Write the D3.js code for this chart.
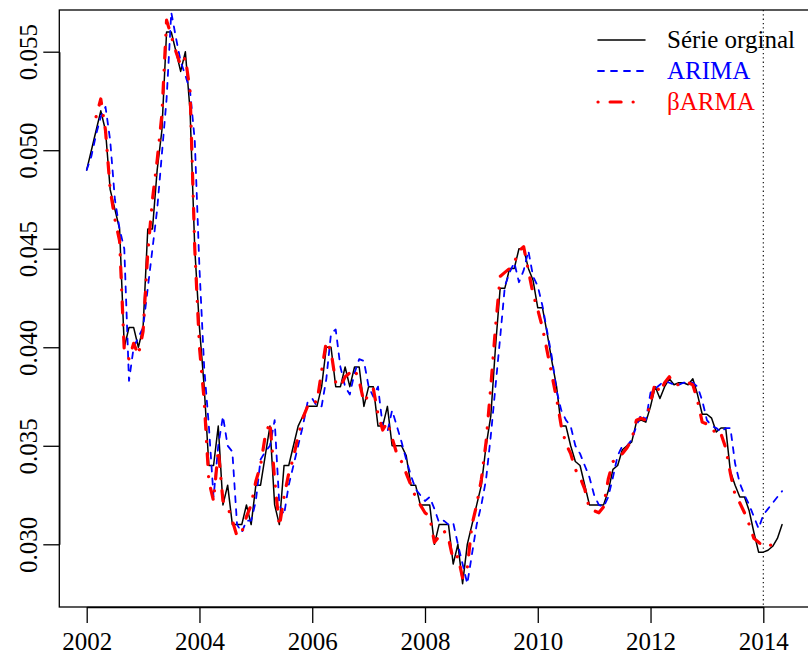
<!DOCTYPE html>
<html>
<head>
<meta charset="utf-8">
<script src="https://cdn.jsdelivr.net/npm/d3@7"></script>
<style>
  html, body { margin: 0; padding: 0; background: #fff; }
  svg { display: block; }
  text { font-family: "Liberation Serif", "Times New Roman", serif; }
</style>
</head>
<body>
<svg id="chart" width="808" height="658"></svg>
<script>
// Monthly series, starting January 2002
const startYear = 2002;

// Observed series (Jan 2002 .. May 2014)
const serieOriginal = [
  0.049, 0.050, 0.051, 0.052, 0.051, 0.048, 0.047, 0.046, 0.040, 0.041, 0.041, 0.040,
  0.041, 0.046, 0.046, 0.049, 0.051, 0.056, 0.056, 0.055, 0.054, 0.055, 0.052, 0.045,
  0.041, 0.038, 0.034, 0.034, 0.036, 0.032, 0.033, 0.031, 0.031, 0.031, 0.032, 0.031,
  0.033, 0.033, 0.0345, 0.036, 0.032, 0.031, 0.034, 0.034, 0.035, 0.036, 0.0365, 0.037,
  0.037, 0.037, 0.038, 0.040, 0.040, 0.038, 0.038, 0.039, 0.038, 0.039, 0.039, 0.037,
  0.038, 0.038, 0.036, 0.036, 0.037, 0.035, 0.035, 0.035, 0.0345, 0.033, 0.033, 0.032,
  0.032, 0.032, 0.030, 0.031, 0.031, 0.031, 0.029, 0.030, 0.028, 0.030, 0.031, 0.032,
  0.033, 0.035, 0.0365, 0.040, 0.043, 0.043, 0.044, 0.044, 0.045, 0.045, 0.044, 0.0434,
  0.042, 0.042, 0.0407, 0.0393, 0.038, 0.036, 0.036, 0.035, 0.0342, 0.034, 0.033, 0.032,
  0.032, 0.032, 0.032, 0.0327, 0.0338, 0.034, 0.0348, 0.035, 0.0352, 0.0362, 0.0363, 0.0362,
  0.037, 0.038, 0.0374, 0.038, 0.0384, 0.0381, 0.0382, 0.0382, 0.0381, 0.0384, 0.0376, 0.0366,
  0.0366, 0.0364, 0.0357, 0.0359, 0.0359, 0.0337, 0.033, 0.0324, 0.0324, 0.0317, 0.0306, 0.0296,
  0.0296, 0.0297, 0.0299, 0.0303, 0.031
];

// ARIMA fitted values and forecasts (Jan 2002 .. May 2014)
const arima = [
  0.049, 0.0497, 0.0508, 0.0517, 0.0522, 0.0505, 0.0475, 0.046, 0.045, 0.0383, 0.040, 0.0405,
  0.041, 0.043, 0.045, 0.047, 0.0498, 0.0526, 0.057, 0.0557, 0.0545, 0.0538, 0.053, 0.0505,
  0.044, 0.039, 0.036, 0.0324, 0.035, 0.0365, 0.035, 0.0347, 0.031, 0.0306, 0.0312, 0.0312,
  0.0322, 0.0343, 0.0347, 0.035, 0.0363, 0.032, 0.0315, 0.033, 0.034, 0.035, 0.036, 0.0372,
  0.0374, 0.037, 0.037, 0.0384, 0.0407, 0.0409, 0.039, 0.038, 0.0376, 0.0387, 0.0394, 0.0393,
  0.038, 0.0375, 0.038, 0.036, 0.0357, 0.0368, 0.036, 0.0352, 0.0343, 0.0335, 0.0328, 0.0325,
  0.0322, 0.0324, 0.0318, 0.0311, 0.0312, 0.031, 0.0311, 0.030, 0.029, 0.028, 0.0295, 0.031,
  0.032, 0.0333, 0.0355, 0.038, 0.0405, 0.0431, 0.0438, 0.0443, 0.0433, 0.0439, 0.0449, 0.0436,
  0.0431, 0.0421, 0.0408, 0.0395, 0.0378, 0.0368, 0.0363, 0.036, 0.035, 0.0346, 0.034, 0.0334,
  0.0325, 0.032, 0.0319, 0.0324, 0.0334, 0.0345, 0.035, 0.035, 0.0353, 0.036, 0.0366, 0.0363,
  0.0377, 0.0379, 0.0381, 0.0383, 0.0382, 0.0381, 0.0381, 0.0382, 0.0382, 0.0382, 0.038, 0.0373,
  0.0363, 0.036, 0.0359, 0.0357, 0.0359, 0.0359, 0.0341, 0.0331, 0.0325, 0.032, 0.0314, 0.0308,
  0.0315, 0.0318, 0.0321, 0.0324, 0.0327
];

// Beta ARMA fitted values and forecasts (Mar 2002 .. Apr 2014)
const barmaStartMonth = 2;
const barma = [
  0.0517, 0.0526, 0.051, 0.048, 0.0465, 0.0454, 0.0398, 0.0394, 0.0402, 0.0396,
  0.0408, 0.0448, 0.0475, 0.0495, 0.0518, 0.0566, 0.0558, 0.055, 0.0543, 0.0547, 0.053, 0.045,
  0.040, 0.0373, 0.0332, 0.0322, 0.0348, 0.0322, 0.0319, 0.0312, 0.0304, 0.0306, 0.0314, 0.032,
  0.0332, 0.034, 0.0355, 0.0362, 0.0333, 0.0309, 0.0324, 0.0336, 0.0344, 0.0355, 0.0364, 0.037,
  0.0373, 0.0372, 0.0388, 0.0403, 0.0398, 0.0382, 0.038, 0.0385, 0.0387, 0.0389, 0.0383, 0.0372,
  0.0376, 0.0379, 0.0366, 0.0358, 0.0362, 0.0354, 0.0346, 0.0342, 0.0336, 0.033, 0.0324, 0.032,
  0.0316, 0.0314, 0.0301, 0.0304, 0.0307, 0.0303, 0.0292, 0.0294, 0.0283, 0.0288, 0.031, 0.032,
  0.0333, 0.0352, 0.038, 0.041, 0.0436, 0.0438, 0.044, 0.0443, 0.0449, 0.0451, 0.0439, 0.0427,
  0.0419, 0.041, 0.0398, 0.0386, 0.0374, 0.036, 0.0351, 0.0346, 0.0338, 0.0334, 0.0328, 0.0318,
  0.0317, 0.0316, 0.0319, 0.0333, 0.0342, 0.0343, 0.0346, 0.0349, 0.0353, 0.0363, 0.0364, 0.0363,
  0.0372, 0.0382, 0.0377, 0.0382, 0.0385, 0.0381, 0.0381, 0.0381, 0.0382, 0.0381, 0.0373, 0.0362,
  0.0361, 0.036, 0.0355, 0.0356, 0.0349, 0.0336, 0.0325, 0.0321, 0.0316, 0.031, 0.0303, 0.0301,
  0.0299, 0.0299, 0.030, 0.0301
];

// Axis ticks and the forecast origin
const xTicks = [2002, 2004, 2006, 2008, 2010, 2012, 2014];
const yTicks = [0.030, 0.035, 0.040, 0.045, 0.050, 0.055];
const forecastStart = 2014;

const legendLabels = ["Série orginal", "ARIMA", "βARMA"];

const svg = d3.select("#chart");

// Plot region (right edge runs past the window)
const plot = { left: 59.3, top: 10, right: 812, bottom: 607 };

const x = d3.scaleLinear().domain([2002, 2014]).range([86.7, 763.3]);
const y = d3.scaleLinear().domain([0.030, 0.055]).range([544.3, 51.7]);

svg.append("defs").append("clipPath").attr("id", "plot-clip")
  .append("rect")
  .attr("x", plot.left).attr("y", plot.top)
  .attr("width", plot.right - plot.left).attr("height", plot.bottom - plot.top);

const toPoints = (vals, offset) => vals.map((v, i) => ({ t: startYear + (i + offset) / 12, v }));

const line = d3.line().x(d => x(d.t)).y(d => y(d.v));

const series = [
  { name: legendLabels[0], data: toPoints(serieOriginal, 0), color: "#000000", width: 1.5, dash: null, cap: "round" },
  { name: legendLabels[1], data: toPoints(arima, 0), color: "#0000FF", width: 1.8, dash: "6,7", cap: "round" },
  { name: legendLabels[2], data: toPoints(barma, barmaStartMonth), color: "#FF0000", width: 3.2, dash: "0.1,12,11,12", cap: "round" }
];

const g = svg.append("g").attr("clip-path", "url(#plot-clip)");

series.forEach(s => {
  g.append("path")
    .datum(s.data)
    .attr("d", line)
    .attr("fill", "none")
    .attr("stroke", s.color)
    .attr("stroke-width", s.width)
    .attr("stroke-linecap", s.cap)
    .attr("stroke-linejoin", "round")
    .attr("stroke-dasharray", s.dash);
});

// Forecast origin marker
g.append("line")
  .attr("x1", x(forecastStart)).attr("x2", x(forecastStart))
  .attr("y1", plot.top).attr("y2", plot.bottom)
  .attr("stroke", "#000").attr("stroke-width", 1.1)
  .attr("stroke-dasharray", "1.3,3");

// Plot frame
svg.append("rect")
  .attr("x", plot.left).attr("y", plot.top)
  .attr("width", plot.right - plot.left).attr("height", plot.bottom - plot.top)
  .attr("fill", "none").attr("stroke", "#000").attr("stroke-width", 1.3);

// X axis
const xAxis = svg.append("g")
  .attr("transform", `translate(0,${plot.bottom})`)
  .call(d3.axisBottom(x).tickValues(xTicks).tickFormat(d3.format("d")).tickSize(16).tickSizeOuter(0));
xAxis.selectAll("path, line").attr("stroke", "#000").attr("stroke-width", 1.3);
xAxis.selectAll("text")
  .attr("y", 42.5).attr("dy", 0)
  .attr("fill", "#000")
  .style("font-family", "'Liberation Serif', serif")
  .style("font-size", "25px");

// Y axis with labels running parallel to the axis
const yAxis = svg.append("g")
  .attr("transform", `translate(${plot.left},0)`)
  .call(d3.axisLeft(y).tickValues(yTicks).tickFormat(d3.format(".3f")).tickSize(16).tickSizeOuter(0));
yAxis.selectAll("path, line").attr("stroke", "#000").attr("stroke-width", 1.3);
yAxis.selectAll("text")
  .attr("x", 0).attr("y", -22).attr("dy", 0)
  .attr("transform", "rotate(-90)")
  .style("text-anchor", "middle")
  .attr("fill", "#000")
  .style("font-family", "'Liberation Serif', serif")
  .style("font-size", "25px");

// Legend
const legend = svg.append("g");
series.forEach((s, i) => {
  const ly = 40 + i * 31;
  legend.append("line")
    .attr("x1", 598).attr("x2", 645)
    .attr("y1", ly).attr("y2", ly)
    .attr("stroke", s.color)
    .attr("stroke-width", s.width)
    .attr("stroke-linecap", s.cap)
    .attr("stroke-dasharray", s.dash);
  legend.append("text")
    .attr("x", 667).attr("y", ly + 8)
    .attr("fill", s.color)
    .style("font-size", "25px")
    .text(s.name);
});
</script>
</body>
</html>
